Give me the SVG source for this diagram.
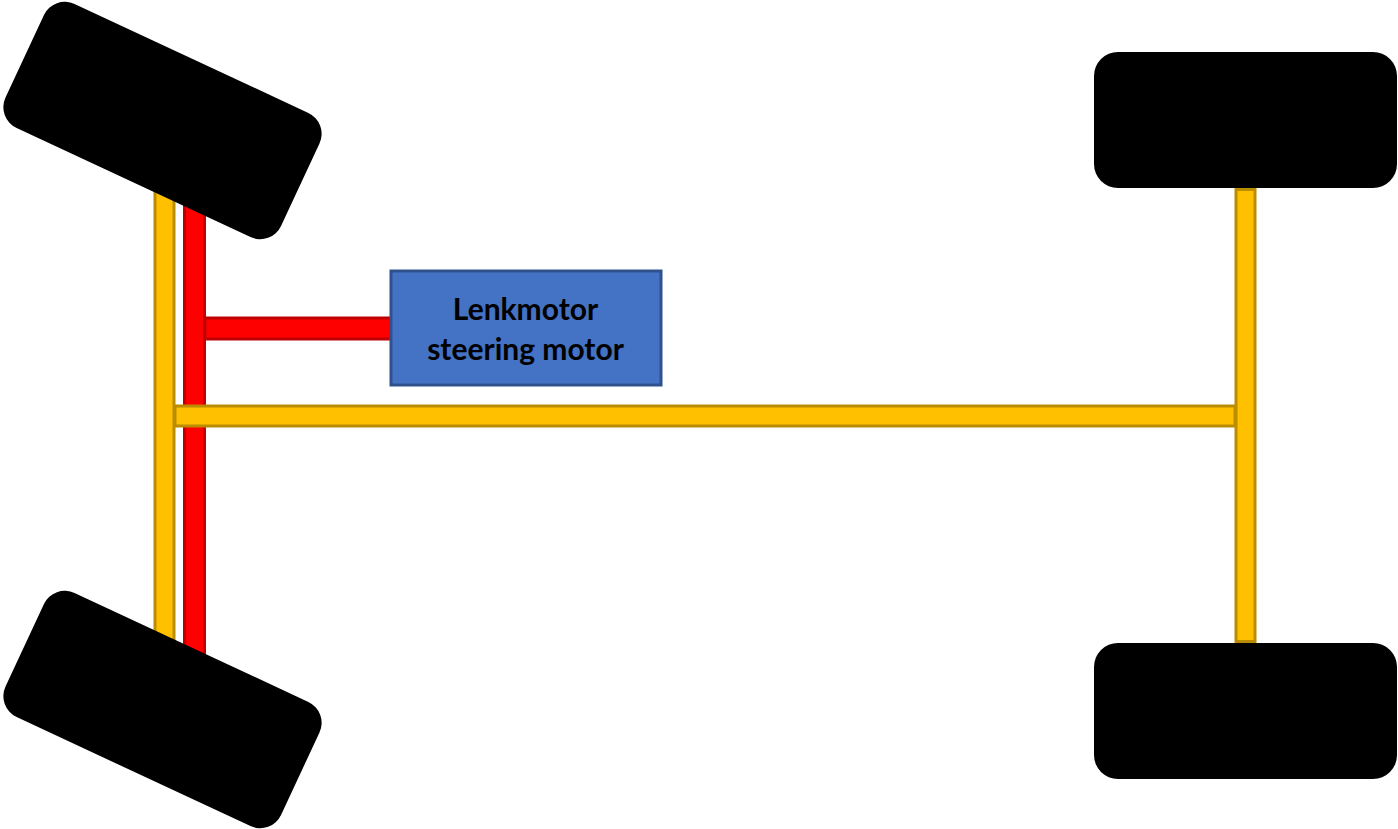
<svg xmlns="http://www.w3.org/2000/svg" width="1398" height="829" viewBox="0 0 1398 829">
<style>
.y{fill:#FFC000;stroke:#BC8C00;stroke-width:3}
.r{fill:#FF0000;stroke:#C00000;stroke-width:3}
.w{fill:#000}
.m{fill:#4472C4;stroke:#2F528F;stroke-width:3}
text{font-family:"Lato","Open Sans","Liberation Sans",sans-serif;font-weight:700;font-size:30px;fill:#000;text-anchor:middle}
</style>
<rect width="1398" height="829" fill="#fff"/>
<g id="connectors">
<rect class="r" x="184.500" y="150" width="20" height="510"/>
<rect class="y" x="155" y="150" width="19" height="500"/>
<rect class="r" x="205" y="318" width="186" height="21"/>
<rect class="y" x="175" y="406" width="1060" height="20"/>
<rect class="y" x="1236" y="189.500" width="19" height="452"/>
</g>
<g id="wheel-front-left"><rect class="w" x="10.500" y="52" width="304" height="137" rx="23" transform="rotate(25 162.500 120.500)"/></g>
<g id="wheel-rear-left"><rect class="w" x="10.500" y="641" width="304" height="137" rx="23" transform="rotate(25 162.500 709.500)"/></g>
<g id="wheel-front-right"><rect class="w" x="1094" y="52" width="303" height="136" rx="24"/></g>
<g id="wheel-rear-right"><rect class="w" x="1094" y="643" width="303" height="136" rx="24"/></g>
<g id="steering-motor">
<rect class="m" x="391" y="271" width="270" height="114"/>
<text x="525.500" y="320">Lenkmotor</text>
<text x="525.500" y="360">steering motor</text>
</g>
</svg>
